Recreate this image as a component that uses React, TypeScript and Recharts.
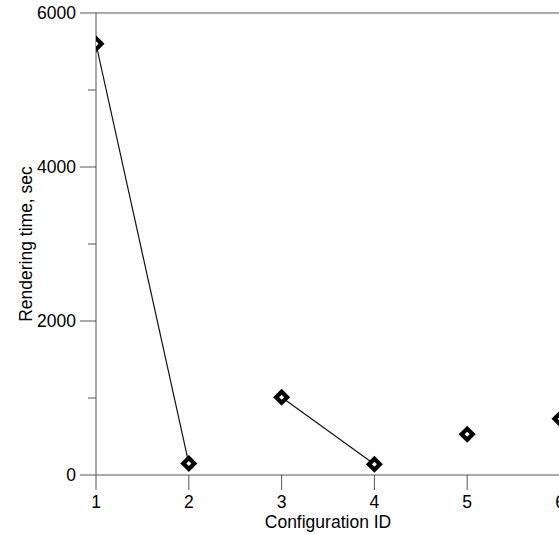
import React from 'react';
import { ComposedChart, Line, Scatter, XAxis, YAxis, ReferenceLine } from 'recharts';

const configIds = [1, 2, 3, 4, 5, 6];
const renderTimes = [5600, 150, 1010, 140, 530, 730];
const connectedRuns = [[1, 2], [3, 4]];
const yTicks = [0, 1000, 2000, 3000, 4000, 5000, 6000];
const yLabelTicks = [0, 2000, 4000, 6000];
const xTicks = [1, 2, 3, 4, 5, 6];

const data = configIds.map((id, i) => {
  const row: any = { id, time: renderTimes[i] };
  connectedRuns.forEach((run, r) => {
    row['run' + r] = run.includes(id) ? renderTimes[i] : null;
  });
  return row;
});

const FONT = '"Liberation Sans", Arial, sans-serif';
const AXIS = '#555';

const YTick = (props: any) => {
  const { x, y, payload } = props;
  const major = yLabelTicks.includes(payload.value);
  const len = major ? 16 : 8;
  return (
    <g>
      <line x1={x - len} x2={x} y1={y} y2={y} stroke={AXIS} strokeWidth={1} />
      {major && (
        <text x={x - 20} y={y} dy="0.36em" textAnchor="end" fontSize={17.5} fontFamily={FONT} fill="#000">
          {payload.value}
        </text>
      )}
    </g>
  );
};

const Diamond = (props: any) => {
  const { cx, cy } = props;
  if (cx == null || cy == null) return null;
  const o = 8.5;
  const n = 2.5;
  return (
    <g>
      <polygon points={`${cx},${cy - o} ${cx + o},${cy} ${cx},${cy + o} ${cx - o},${cy}`} fill="#000" />
      <polygon points={`${cx},${cy - n} ${cx + n},${cy} ${cx},${cy + n} ${cx - n},${cy}`} fill="#fff" />
    </g>
  );
};

const YLabel = (props: any) => {
  const { viewBox } = props;
  const cx = viewBox.x + 32;
  const cy = viewBox.y + viewBox.height / 2;
  return (
    <text x={cx} y={cy} transform={`rotate(-90 ${cx} ${cy})`} textAnchor="middle" fontSize={17.5} fontFamily={FONT} fill="#000">
      Rendering time, sec
    </text>
  );
};

export default function App() {
  return (
    <div style={{ position: 'absolute', left: 0, top: 0, width: 559, height: 535, overflow: 'hidden', background: '#fff' }}>
      <ComposedChart width={580} height={535} data={data} margin={{ top: 13, right: 20, bottom: 0, left: 0 }}>
        <XAxis
          dataKey="id"
          type="number"
          domain={[1, 6]}
          ticks={xTicks}
          allowDataOverflow
          stroke={AXIS}
          tickSize={15}
          tickMargin={6}
          height={60}
          tick={{ fill: '#000', fontSize: 17.5, fontFamily: FONT }}
          label={{ value: 'Configuration ID', position: 'insideBottom', offset: 7, fill: '#000', fontSize: 17.5, fontFamily: FONT }}
        />
        <YAxis
          type="number"
          domain={[0, 6000]}
          ticks={yTicks}
          width={96}
          stroke={AXIS}
          tickLine={false}
          tickSize={0}
          tickMargin={0}
          tick={<YTick />}
          label={<YLabel />}
        />
        <ReferenceLine y={6000} stroke={AXIS} strokeWidth={1} />
        {connectedRuns.map((_, r) => (
          <Line
            key={r}
            dataKey={'run' + r}
            stroke="#111"
            strokeWidth={1.2}
            dot={false}
            activeDot={false}
            connectNulls={false}
            isAnimationActive={false}
          />
        ))}
        <Scatter dataKey="time" shape={<Diamond />} isAnimationActive={false} />
      </ComposedChart>
    </div>
  );
}
